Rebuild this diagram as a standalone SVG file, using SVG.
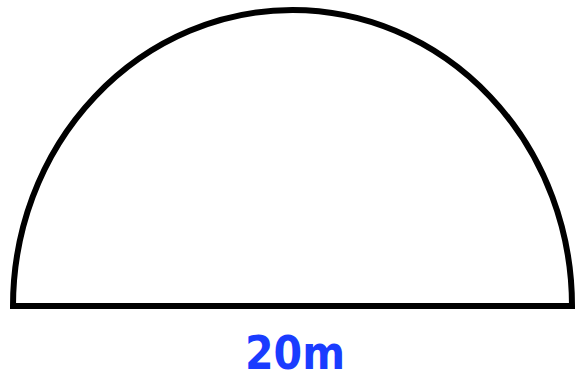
<svg xmlns="http://www.w3.org/2000/svg" width="575" height="381" viewBox="0 0 575 381">
<style>
.shape{fill:none;stroke:#000;stroke-width:6;stroke-linejoin:miter}
.lbl{font-family:"DejaVu Sans",sans-serif;font-size:46px;font-weight:bold;fill:#1a3cff;text-anchor:middle}
</style>
<rect width="575" height="381" fill="#fff"/>
<g id="semicircle">
<path class="shape" d="M13,306 A279.5,296 0 0 1 572,306 Z"/>
</g>
<g id="label">
<text class="lbl" x="295" y="369" textLength="100" lengthAdjust="spacingAndGlyphs">20m</text>
</g>
</svg>
